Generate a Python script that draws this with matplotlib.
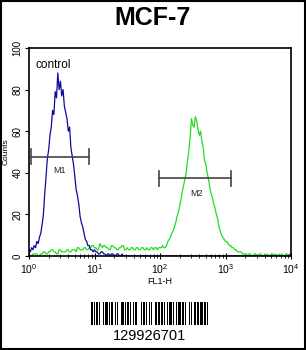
import numpy as np
import matplotlib
matplotlib.use("Agg")
import matplotlib.pyplot as plt
from matplotlib.patches import Rectangle

plt.rcParams['font.family'] = ['Liberation Sans', 'DejaVu Sans']

# channel positions (log10 of FL1-H), 0.02 decade bins
fl1_log = np.linspace(0, 4, 201)

# control (blue) histogram counts
control = [3, 2, 4, 3, 5, 4, 7, 6, 9, 11, 15, 20, 30, 38, 47, 51, 58, 62, 70, 68, 79, 76, 88, 80, 84,
           77, 80, 72, 69, 66, 60, 62, 52, 48, 44, 38, 32, 29, 25, 19, 16, 14, 11, 8, 7, 5, 5, 3, 3, 2,
           3, 2, 2, 1, 1, 2, 2, 1, 1, 0, 1, 1, 0, 1, 1, 0, 0, 1, 1, 0, 0, 1, 0, 0, 0,
           0, 0, 0, 0, 0, 0, 0, 0, 0, 0, 0, 0, 0, 0, 0, 0, 0, 0, 0, 0, 0, 0, 0, 0, 0,
           0, 0, 0, 0, 0, 0, 0, 0, 0, 0, 0, 0, 0, 0, 0, 0, 0, 0, 0, 0, 0, 0, 0, 0, 0,
           0, 0, 0, 0, 0, 0, 0, 0, 0, 0, 0, 0, 0, 0, 0, 0, 0, 0, 0, 0, 0, 0, 0, 0, 0,
           0, 0, 0, 0, 0, 0, 0, 0, 0, 0, 0, 0, 0, 0, 0, 0, 0, 0, 0, 0, 0, 0, 0, 0, 0,
           0, 0, 0, 0, 0, 0, 0, 0, 0, 0, 0, 0, 0, 0, 0, 0, 0, 0, 0, 0, 0, 0, 0, 0, 0, 0]

# sample (green) histogram counts
sample = [0, 0, 0, 1, 1, 1, 1, 0, 0, 1, 1, 2, 2, 1, 1, 2, 2, 3, 3, 2, 2, 1, 1, 3, 3,
          2, 2, 2, 2, 3, 3, 2, 2, 3, 3, 3, 2, 4, 4, 3, 3, 3, 4, 4, 3, 3, 4, 4, 5, 5,
          4, 4, 3, 3, 6, 5, 4, 5, 5, 4, 4, 3, 3, 5, 5, 4, 4, 3, 3, 4, 4, 5, 5, 3, 3,
          4, 3, 3, 4, 4, 3, 3, 4, 4, 3, 3, 4, 4, 3, 3, 4, 3, 3, 4, 4, 3, 4, 4, 3, 4,
          4, 4, 5, 4, 4, 5, 7, 8, 9, 11, 12, 14, 16, 19, 21, 24, 27, 31, 34, 37, 40, 46, 50, 57, 66,
          63, 62, 67, 65, 61, 58, 60, 55, 52, 46, 44, 40, 37, 33, 30, 28, 25, 23, 20, 18, 14, 12, 10, 9, 8,
          7, 7, 6, 5, 5, 4, 4, 3, 3, 2, 2, 2, 2, 1, 1, 1, 1, 0, 1, 1, 0, 0, 1, 1, 0,
          0, 1, 1, 0, 0, 1, 0, 1, 0, 0, 1, 1, 0, 1, 0, 0, 1, 0, 1, 0, 0, 1, 1, 0, 1, 0]

# markers: (name, x start, x end, level, label x, label y)
markers = [("M1", 1.07, 8.2, 47.7, 2.95, 41),
           ("M2", 97, 1230, 37.4, 365, 30)]

barcode_widths = [2, 1, 1, 1, 2, 1, 1, 2, 1, 1, 3, 1, 1, 1, 2, 2, 1, 1, 1, 2, 3, 1, 1, 1, 2, 1,
                  1, 2, 1, 1, 2, 3, 1, 1, 2, 1, 1, 2, 1, 1, 1, 3, 2, 1, 1, 1, 2, 1, 1, 2, 1, 1,
                  3, 1, 1, 2, 1, 1, 2, 1, 2, 1, 1, 3, 1, 1, 1, 2, 2, 1, 1, 1, 3, 1, 2, 1, 1]
barcode_text = "129926701"

fig = plt.figure(figsize=(3.06, 3.5), dpi=100)
fig.patches.append(Rectangle((0.002, 0.004), 0.994, 0.993, transform=fig.transFigure,
                             fill=False, lw=1.5, edgecolor='black'))

fig.text(0.5, 0.949, "MCF-7", ha='center', va='center', fontsize=18, fontweight='bold')

ax = fig.add_axes([29 / 306, 94 / 350, 262 / 306, 208 / 350])
x = 10 ** fl1_log
ax.plot(x, sample, color='#20dd20', lw=0.9)
ax.plot(x, control, color='#0a0aa0', lw=0.9)

for name, x0, x1, lev, lx, ly in markers:
    ax.plot([x0, x1], [lev, lev], color='#444444', lw=1.2)
    ax.plot([x0, x0], [lev - 3.6, lev + 3.6], color='#444444', lw=1.2)
    ax.plot([x1, x1], [lev - 3.6, lev + 3.6], color='#444444', lw=1.2)
    ax.text(lx, ly, name, ha='center', va='center', fontsize=6.5, color='#222222')

ax.text(1.25, 92, "control", ha='left', va='center', fontsize=8.5)

ax.set_xscale('log')
ax.set_xlim(1, 10000)
ax.set_ylim(0, 100)
ax.set_yticks([0, 20, 40, 60, 80, 100])
ax.tick_params(axis='y', direction='out', length=3, labelsize=7, pad=1.5)
for lab in ax.get_yticklabels():
    lab.set_rotation(90)
    lab.set_va('center')
ax.tick_params(axis='x', which='major', direction='inout', length=5, labelsize=7.5, pad=2)
ax.tick_params(axis='x', which='minor', direction='inout', length=3)
ax.set_ylabel("Counts", fontsize=6, labelpad=2)
ax.set_xlabel("FL1-H", fontsize=6.5, labelpad=1)
for s in ax.spines.values():
    s.set_linewidth(1.2)

# barcode
bax = fig.add_axes([91 / 306, 25 / 350, 117 / 306, 23 / 350])
pos = 0
for i, w in enumerate(barcode_widths):
    if i % 2 == 0:
        bax.bar(pos, 1, width=w, align='edge', color='black')
    pos += w
bax.set_xlim(0, pos)
bax.set_ylim(0, 1)
bax.axis('off')
fig.text(149 / 306, 1 - 336 / 350, barcode_text, ha='center', va='center', fontsize=10.5)

fig.savefig("out.png", dpi=100)
